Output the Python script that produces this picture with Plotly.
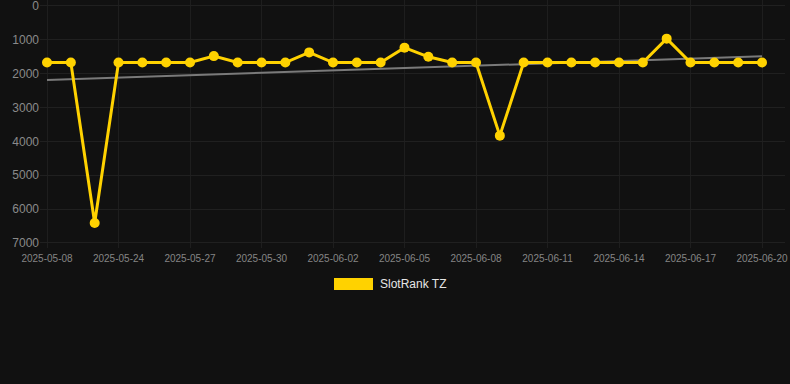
import numpy as np
import plotly.graph_objects as go

dates = ["2025-05-08", "2025-05-22", "2025-05-23", "2025-05-24", "2025-05-25", "2025-05-26",
         "2025-05-27", "2025-05-28", "2025-05-29", "2025-05-30", "2025-05-31", "2025-06-01",
         "2025-06-02", "2025-06-03", "2025-06-04", "2025-06-05", "2025-06-06", "2025-06-07",
         "2025-06-08", "2025-06-09", "2025-06-10", "2025-06-11", "2025-06-12", "2025-06-13",
         "2025-06-14", "2025-06-15", "2025-06-16", "2025-06-17", "2025-06-18", "2025-06-19",
         "2025-06-20"]
rank = [1670, 1670, 6410, 1670, 1670, 1670, 1670, 1480, 1670, 1670, 1670, 1370,
        1670, 1670, 1670, 1230, 1500, 1670, 1670, 3830, 1670, 1670, 1670, 1670,
        1670, 1670, 965, 1670, 1670, 1670, 1670]
tick_dates = dates[0::3]
y_ticks = [0, 1000, 2000, 3000, 4000, 5000, 6000, 7000]
series_name = "SlotRank TZ"

idx = np.arange(len(rank))
coef = np.polyfit(idx, rank, 1)
trend = np.polyval(coef, idx)

PLOT_L, PLOT_W = 40, 745
PLOT_H = 248

fig = go.Figure()
fig.add_trace(go.Scatter(x=dates, y=trend, mode="lines",
                         line=dict(color="#7a7a7a", width=2), showlegend=False,
                         hoverinfo="skip"))
fig.add_trace(go.Scatter(x=dates, y=rank, mode="lines+markers", name=series_name,
                         line=dict(color="#ffd200", width=3),
                         marker=dict(color="#ffd200", size=10), showlegend=False))

fig.update_xaxes(type="category", categoryorder="array", categoryarray=dates,
                 range=[-0.294, 30.965], tickvals=tick_dates, ticktext=tick_dates,
                 showgrid=True, gridcolor="#1e1e1e", gridwidth=1, zeroline=False,
                 showline=False, ticks="", tickfont=dict(size=10, color="#858585"),
                 tickangle=0, ticklabelstandoff=3)
fig.update_yaxes(range=[7148, -177], tickmode="array", tickvals=y_ticks,
                 ticktext=[str(v) for v in y_ticks], ticklabeloverflow="allow",
                 showgrid=True, gridcolor="#202020",
                 zeroline=False, showline=False, ticks="",
                 tickfont=dict(size=12, color="#8a8a8a"))

# legend drawn manually (rectangle swatch)
fig.add_shape(type="rect", xref="paper", yref="paper",
              x0=(334 - PLOT_L) / PLOT_W, x1=(373 - PLOT_L) / PLOT_W,
              y0=(PLOT_H - 290) / PLOT_H, y1=(PLOT_H - 278) / PLOT_H,
              fillcolor="#ffd200", line=dict(width=0))
fig.add_annotation(xref="paper", yref="paper", x=(378 - PLOT_L) / PLOT_W,
                   y=(PLOT_H - 284) / PLOT_H,
                   text=series_name, showarrow=False, xanchor="left", yanchor="middle",
                   font=dict(size=12, color="#e6e6e6"))

fig.update_layout(width=790, height=384, margin=dict(l=PLOT_L, r=790 - PLOT_L - PLOT_W,
                                                     t=0, b=384 - PLOT_H),
                  paper_bgcolor="#111111", plot_bgcolor="#111111",
                  font=dict(family="Liberation Sans, Arial, sans-serif"),
                  showlegend=False)
fig.write_html("out.html")
